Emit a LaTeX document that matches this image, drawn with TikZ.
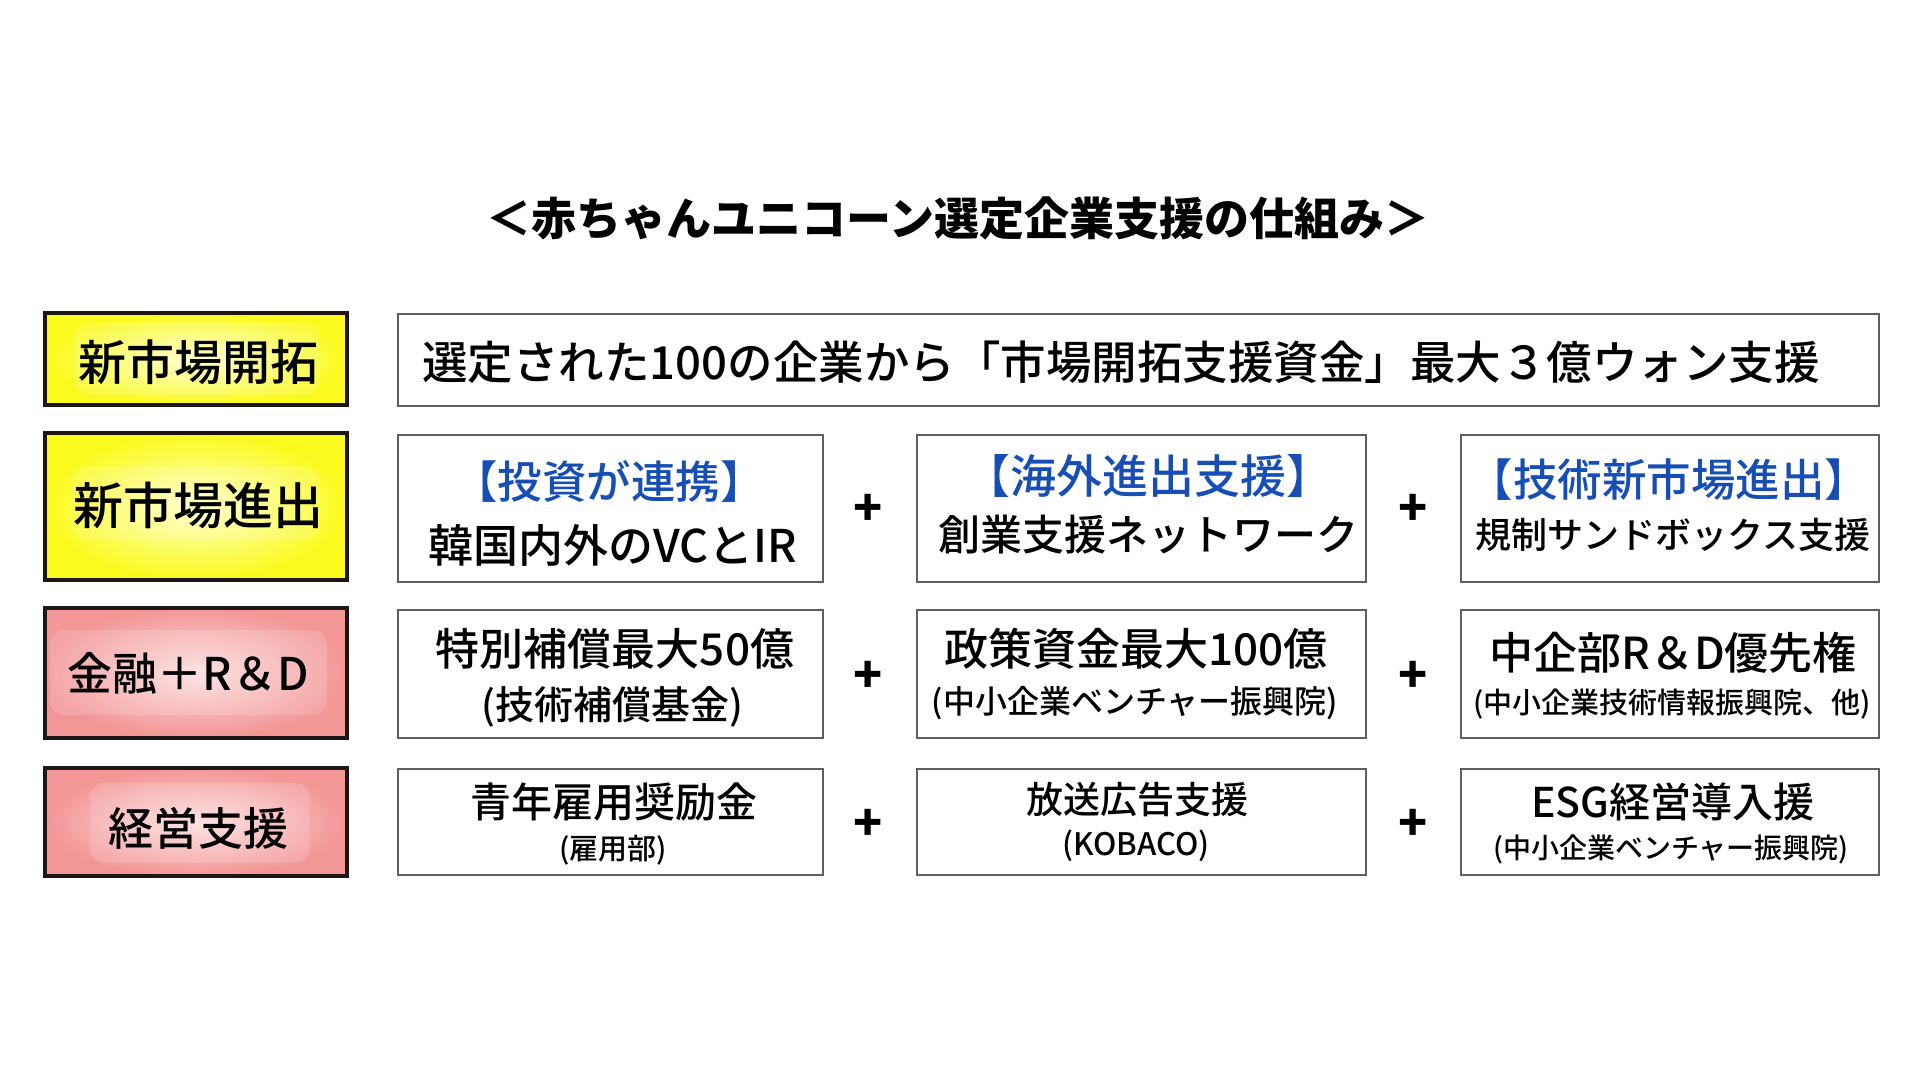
\documentclass[tikz,border=0pt]{standalone}
\usepackage{fontspec}
\setmainfont{Noto Sans CJK JP}
\newfontfamily\med{Noto Sans CJK JP Medium}
\definecolor{lblue}{RGB}{22,78,182}
\definecolor{ycenter}{RGB}{255,255,200}
\definecolor{yedge}{RGB}{250,250,30}
\definecolor{pcenter}{RGB}{253,222,222}
\definecolor{pedge}{RGB}{243,150,150}
\definecolor{catborder}{RGB}{30,22,22}
\definecolor{cellborder}{RGB}{95,95,95}
\newcommand\fsz[1]{\fontsize{#1pt}{#1pt}\selectfont}
\begin{document}
\begin{tikzpicture}[x=1pt,y=-1pt,
  catY/.style={draw=catborder, line width=4pt, inner color=ycenter, outer color=yedge, minimum width=302pt, inner sep=0pt, outer sep=0pt},
  catP/.style={draw=catborder, line width=4pt, inner color=pcenter, outer color=pedge, minimum width=302pt, inner sep=0pt, outer sep=0pt},
  glow/.style={fill=white, fill opacity=0.14, rounded corners=14pt, draw=none},
  cell/.style={draw=cellborder, line width=2.5pt, fill=white, inner sep=0pt, outer sep=0pt},
  txt/.style={inner sep=0pt, outer sep=0pt, text=black},
  btxt/.style={inner sep=0pt, outer sep=0pt, text=lblue},
  plus/.style={inner sep=0pt, outer sep=0pt, text=black, font=\fsz{48}\bfseries}]
\useasboundingbox (0,0) rectangle (1920,1080);
\fill[white] (0,0) rectangle (1920,1080);

% title
\node[txt, font=\fsz{45}\bfseries] (title) at (958,218) {＜赤ちゃんユニコーン選定企業支援の仕組み＞};

% category boxes
\node[catY, minimum height=92pt] (c1) at (196,359) {};
\node[catY, minimum height=147pt] (c2) at (196,506.5) {};
\node[catP, minimum height=130pt] (c3) at (196,673) {};
\node[catP, minimum height=108pt] (c4) at (196,822) {};
\fill[glow] (75,323) rectangle (320,395);
\fill[glow] (72,467) rectangle (320,540);
\fill[glow] (50,630) rectangle (327,715);
\fill[glow] (90,783) rectangle (310,863);
\node[txt, font=\fsz{48}\med] (t1) at (198,362) {新市場開拓};
\node[txt, font=\fsz{50}\med] (t2) at (198,505) {新市場進出};
\node[txt, font=\fsz{45}\med] (t3) at (188,673) {金融＋R＆D};
\node[txt, font=\fsz{45}\med] (t4) at (198,828) {経営支援};

% row 1
\node[cell, minimum width=1481pt, minimum height=92pt] (r1) at (1138.5,360) {};
\node[txt, font=\fsz{45.5}\med] (r1t) at (1121,362) {選定された100の企業から「市場開拓支援資金」最大３億ウォン支援};

% row 2
\node[cell, minimum width=425pt, minimum height=147pt] (a2) at (610.5,508.5) {};
\node[cell, minimum width=449pt, minimum height=147pt] (b2) at (1141.5,508.5) {};
\node[cell, minimum width=418pt, minimum height=147pt] (c2b) at (1670,508.5) {};
\node[btxt, font=\fsz{44.5}\med] (a2h) at (609,481) {【投資が連携】};
\node[txt, font=\fsz{45}\med] (a2t) at (613,545) {韓国内外のVCとIR};
\node[btxt, font=\fsz{46}\med] (b2h) at (1148,476) {【海外進出支援】};
\node[txt, font=\fsz{42}\med] (b2t) at (1148,535) {創業支援ネットワーク};
\node[btxt, font=\fsz{44.5}\med] (c2h) at (1669,480) {【技術新市場進出】};
\node[txt, font=\fsz{36}\med] (c2t) at (1673,535) {規制サンドボックス支援};
\node[plus] (p21) at (868,510) {+};
\node[plus] (p22) at (1413,510) {+};

% row 3
\node[cell, minimum width=425pt, minimum height=128pt] (a3) at (610.5,674) {};
\node[cell, minimum width=449pt, minimum height=128pt] (b3) at (1141.5,674) {};
\node[cell, minimum width=418pt, minimum height=128pt] (c3b) at (1670,674) {};
\node[txt, font=\fsz{44}\med] (a3h) at (615,649) {特別補償最大50億};
\node[txt, font=\fsz{39}\med] (a3t) at (612,707) {(技術補償基金)};
\node[txt, font=\fsz{44}\med] (b3h) at (1136,649) {政策資金最大100億};
\node[txt, font=\fsz{32}\med] (b3t) at (1135,703) {(中小企業ベンチャー振興院)};
\node[txt, font=\fsz{44}\med] (c3h) at (1673,653) {中企部R＆D優先権};
\node[txt, font=\fsz{29}\med] (c3t) at (1672,704) {(中小企業技術情報振興院、他)};
\node[plus] (p31) at (868,677) {+};
\node[plus] (p32) at (1413,677) {+};

% row 4
\node[cell, minimum width=425pt, minimum height=106pt] (a4) at (610.5,822) {};
\node[cell, minimum width=449pt, minimum height=106pt] (b4) at (1141.5,822) {};
\node[cell, minimum width=418pt, minimum height=106pt] (c4b) at (1670,822) {};
\node[txt, font=\fsz{41}\med] (a4h) at (614,802) {青年雇用奨励金};
\node[txt, font=\fsz{29}\med] (a4t) at (613,850) {(雇用部)};
\node[txt, font=\fsz{37}\med] (b4h) at (1137,800) {放送広告支援};
\node[txt, font=\fsz{31}\med] (b4t) at (1136,846) {(KOBACO)};
\node[txt, font=\fsz{41}\med] (c4h) at (1673,802) {ESG経営導入援};
\node[txt, font=\fsz{28}\med] (c4t) at (1671,849) {(中小企業ベンチャー振興院)};
\node[plus] (p41) at (868,825) {+};
\node[plus] (p42) at (1413,825) {+};
\end{tikzpicture}
\end{document}
